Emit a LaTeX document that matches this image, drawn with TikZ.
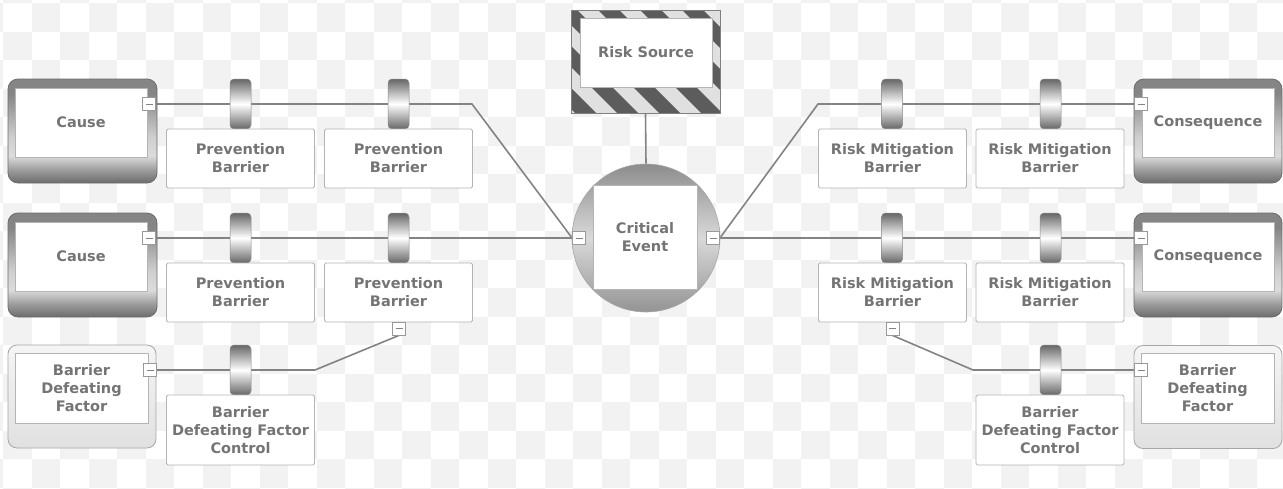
\documentclass[tikz,border=0pt]{standalone}
\usepackage{fontspec}
\setmainfont{DejaVu Sans}
\usetikzlibrary{calc}

\definecolor{chk}{HTML}{F2F2F2}
\definecolor{txt}{HTML}{747474}
\definecolor{wire}{HTML}{838383}
\definecolor{edge}{HTML}{B4B4B4}
\definecolor{ctop}{HTML}{858585}
\definecolor{cside}{HTML}{CFCFCF}
\definecolor{clight}{HTML}{DCDCDC}
\definecolor{cmid}{HTML}{9A9A9A}
\definecolor{cbot}{HTML}{6C6C6C}
\definecolor{ringdark}{HTML}{666666}
\definecolor{stripe}{HTML}{5C5C5C}

% frame of cause / consequence boxes: dark top band, light sides, dark bottom band
\pgfdeclareverticalshading{frameshade}{100bp}{color(0bp)=(cbot); color(25bp)=(cbot); color(31bp)=(cmid); color(38bp)=(clight); color(47bp)=(cside); color(68bp)=(ctop); color(75bp)=(ctop); color(100bp)=(ctop)}

\pgfdeclarelayer{back}
\pgfdeclarelayer{wires}
\pgfsetlayers{back,wires,main}

\tikzset{
  lbl/.style={font=\bfseries\fontsize{14.5}{18}\selectfont, text=txt, align=center, inner sep=0pt},
  barbox/.style={lbl, rectangle, draw=edge, fill=white, line width=0.9pt, rounded corners=1.5pt, minimum width=148pt, minimum height=59pt},
  ctlbox/.style={barbox, minimum height=70pt},
  innerbox/.style={lbl, rectangle, draw=edge, fill=white, line width=0.9pt, minimum width=132pt, minimum height=69pt},
  darkframe/.style={rectangle, shade, shading=frameshade, draw=cbot, line width=0.8pt, rounded corners=10pt, minimum width=149pt, minimum height=104pt, inner sep=0pt},
  lightframe/.style={rectangle, top color=white!96!black, bottom color=white!88!black, draw=black!35, line width=0.8pt, rounded corners=9pt, minimum width=148pt, minimum height=103pt, inner sep=0pt},
  ring/.style={rectangle, rounded corners=4pt, minimum width=21pt, minimum height=50pt, inner sep=0pt, top color=ringdark, bottom color=ringdark, middle color=white, draw=black!45, line width=0.5pt},
  minusbox/.style={rectangle, draw=black!40, fill=white, line width=0.8pt, minimum size=13pt, inner sep=0pt,
    path picture={\draw[wire, line width=0.9pt] ([xshift=-3.5pt]path picture bounding box.center) -- ([xshift=3.5pt]path picture bounding box.center);}},
  wireline/.style={draw=wire, line width=1.6pt, line join=round},
}

\begin{document}
\begin{tikzpicture}[x=1pt, y=-1pt]
\useasboundingbox (0,0) rectangle (1283,488);

% checkered backdrop
\begin{pgfonlayer}{back}
  \fill[white] (0,0) rectangle (1283,488);
  \begin{scope}
    \clip (0,0) rectangle (1283,488);
    \foreach \i in {-1,...,44} {
      \foreach \j in {-1,...,17} {
        \pgfmathtruncatemacro\odd{mod(\i+\j+2,2)}
        \ifnum\odd=1
          \fill[chk] (3.2+\i*28.5, 3.2+\j*28.5) rectangle ++(28.5,28.5);
        \fi
      }
    }
  \end{scope}
\end{pgfonlayer}

% ---------------- risk source ----------------
\node[rectangle, draw=black!50, fill=white!88!black, line width=1pt, minimum width=149pt, minimum height=103pt, inner sep=0pt,
  path picture={
    \foreach \k in {-6,...,4}
      \fill[stripe] ($(path picture bounding box.north west)+(27+\k*42,0)$) -- ++(21,0) -- ++(103,103) -- ++(-21,0) -- cycle;
  }] (rso) at (645.5,61.5) {};
\node[innerbox] (rs) at (646,52.5) {Risk Source};

% ---------------- critical event ----------------
\node[circle, minimum size=148pt, inner sep=0pt, top color=black!45, bottom color=black!42, middle color=black!15, draw=black!35, line width=0.6pt] (ce) at (646,238) {};
\node[lbl, rectangle, draw=edge, fill=white, line width=0.9pt, minimum size=104pt] (cei) at (645,237) {Critical\\Event};
\node[minusbox] (cem1) at (579,238) {};
\node[minusbox] (cem2) at (713,238) {};

% ---------------- causes ----------------
\node[darkframe] (c1f) at (82.5,131) {};
\node[innerbox] (c1) at (81,122.5) {Cause};
\node[minusbox] (c1m) at (149,104) {};

\node[darkframe] (c2f) at (82.5,265) {};
\node[innerbox] (c2) at (81,256.5) {Cause};
\node[minusbox] (c2m) at (149,238) {};

% prevention barriers
\node[ring] (p11r) at (240.5,104) {};
\node[barbox] (p11) at (240.5,158.5) {Prevention\\Barrier};
\node[ring] (p12r) at (398.5,104) {};
\node[barbox] (p12) at (398.5,158.5) {Prevention\\Barrier};

\node[ring] (p21r) at (240.5,238) {};
\node[barbox] (p21) at (240.5,292.5) {Prevention\\Barrier};
\node[ring] (p22r) at (398.5,238) {};
\node[barbox] (p22) at (398.5,292.5) {Prevention\\Barrier};
\node[minusbox] (p22m) at (399,328.5) {};

% barrier defeating factor, left
\node[lightframe] (f1f) at (82,396.5) {};
\node[innerbox, minimum width=133pt, minimum height=70pt] (f1) at (81.5,388) {Barrier\\Defeating\\Factor};
\node[minusbox] (f1m) at (150,370) {};
\node[ring] (d1r) at (240.5,370) {};
\node[ctlbox] (d1) at (240.5,430) {Barrier\\Defeating Factor\\Control};

% ---------------- consequences ----------------
\node[darkframe, minimum width=148pt] (q1f) at (1208,131) {};
\node[innerbox] (q1) at (1208,122.5) {Consequence};
\node[minusbox] (q1m) at (1141,104) {};

\node[darkframe, minimum width=148pt] (q2f) at (1208,265) {};
\node[innerbox] (q2) at (1208,256.5) {Consequence};
\node[minusbox] (q2m) at (1141,238) {};

% risk mitigation barriers
\node[ring] (m11r) at (892,104) {};
\node[barbox] (m11) at (892.5,158.5) {Risk Mitigation\\Barrier};
\node[ring] (m12r) at (1050.5,104) {};
\node[barbox] (m12) at (1050,158.5) {Risk Mitigation\\Barrier};

\node[ring] (m21r) at (892,238) {};
\node[barbox] (m21) at (892.5,292.5) {Risk Mitigation\\Barrier};
\node[ring] (m22r) at (1050.5,238) {};
\node[barbox] (m22) at (1050,292.5) {Risk Mitigation\\Barrier};
\node[minusbox] (m21m) at (892.5,328.5) {};

% barrier defeating factor, right
\node[lightframe] (f2f) at (1208,397) {};
\node[innerbox, minimum width=133pt, minimum height=70pt] (f2) at (1207.5,388) {Barrier\\Defeating\\Factor};
\node[minusbox] (f2m) at (1141,370) {};
\node[ring] (d2r) at (1050.5,370) {};
\node[ctlbox] (d2) at (1050,430) {Barrier\\Defeating Factor\\Control};

% bends of the connectors
\coordinate (k1) at (472,104);
\coordinate (k2) at (818,104);
\coordinate (k3) at (315,370);
\coordinate (k4) at (973,370);

% ---------------- connectors ----------------
\begin{pgfonlayer}{wires}
  \draw[wireline] (c1m.east) -- (k1) -- (cem1.west);
  \draw[wireline] (c2m.east) -- (cem1.west);
  \draw[wireline] (rso.south) -- (ce.north);
  \draw[wireline] (cem2.east) -- (k2) -- (q1m.west);
  \draw[wireline] (cem2.east) -- (q2m.west);
  \draw[wireline] (p22m.south) -- (k3) -- (f1m.east);
  \draw[wireline] (m21m.south) -- (k4) -- (f2m.west);
\end{pgfonlayer}
\end{tikzpicture}
\end{document}
